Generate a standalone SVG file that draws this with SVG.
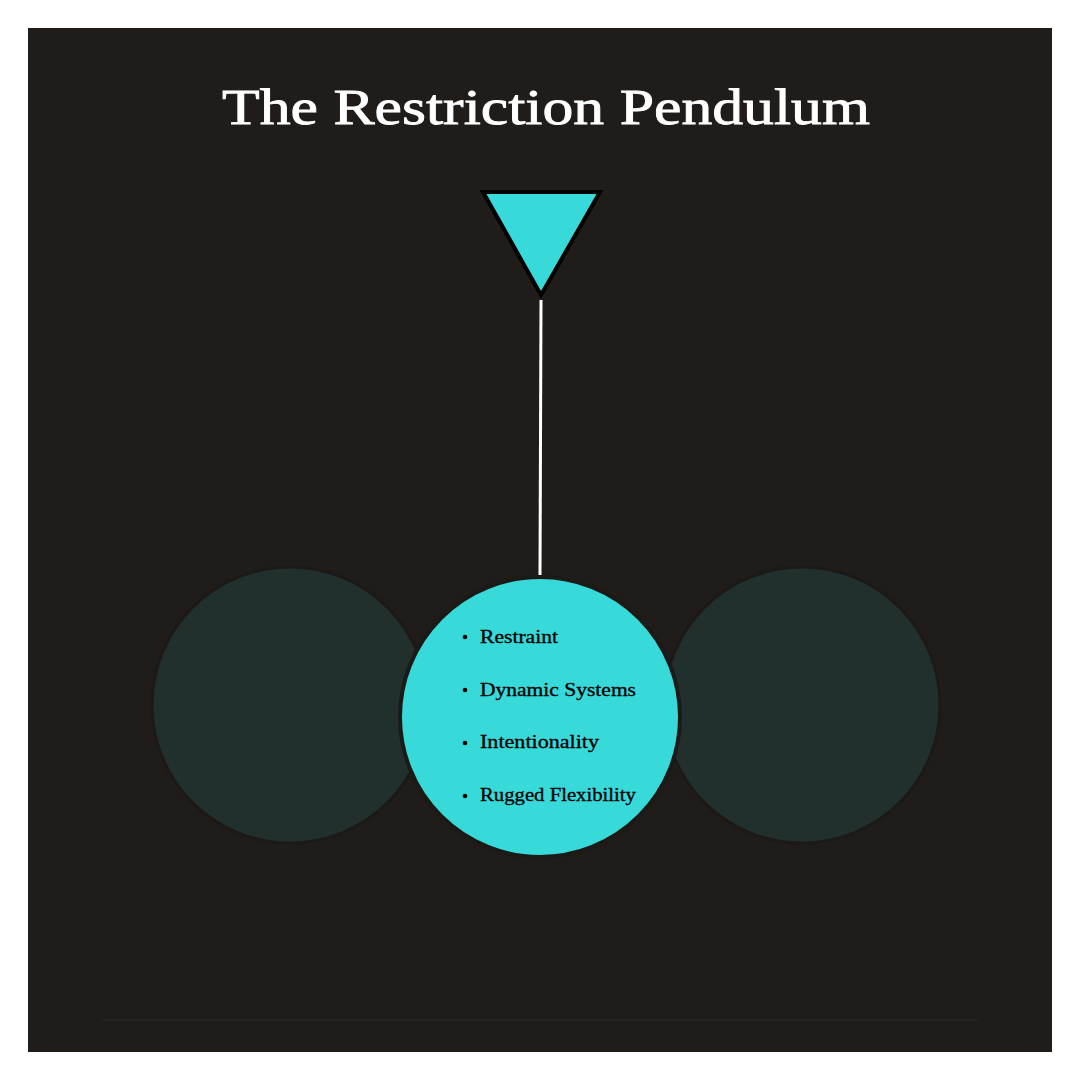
<svg xmlns="http://www.w3.org/2000/svg" width="1080" height="1080" viewBox="0 0 1080 1080">
<style>
.side{fill:#22302d;stroke:#1c1a17;stroke-width:3}
.t{font-family:"Liberation Serif","DejaVu Serif",serif;fill:#000;font-size:18px}
.t text{stroke:#000;stroke-width:0.3}
</style>
<rect x="0" y="0" width="1080" height="1080" fill="#ffffff"/>
<rect x="28" y="28" width="1024" height="1024" fill="#201c19"/>
<line x1="102" y1="1020" x2="978" y2="1020" stroke="#262220" stroke-width="2"/>
<text x="546" y="124" text-anchor="middle" font-family="Liberation Serif, serif" font-size="50" fill="#ffffff" stroke="#ffffff" stroke-width="0.8" textLength="648" lengthAdjust="spacingAndGlyphs">The Restriction Pendulum</text>
<g id="left"><circle class="side" cx="290" cy="705" r="138"/></g>
<g id="right"><circle class="side" cx="802" cy="705" r="138"/></g>
<g id="connectors"><line x1="541" y1="300" x2="540" y2="575" stroke="#ffffff" stroke-width="3"/></g>
<g id="pivot"><polygon points="483,192 600,192 541,295" fill="#38d9d9" stroke="#000" stroke-width="4"/></g>
<g id="bob">
<circle cx="540" cy="717" r="140" fill="#38d9d9" stroke="#1c1a17" stroke-width="4"/>
<g class="t">
<circle cx="465" cy="637" r="2.3"/><text x="480" y="643" textLength="78" lengthAdjust="spacingAndGlyphs">Restraint</text>
<circle cx="465" cy="690" r="2.3"/><text x="480" y="696" textLength="156" lengthAdjust="spacingAndGlyphs">Dynamic Systems</text>
<circle cx="465" cy="743" r="2.3"/><text x="480" y="748" textLength="119" lengthAdjust="spacingAndGlyphs">Intentionality</text>
<circle cx="465" cy="796" r="2.3"/><text x="480" y="801" textLength="156" lengthAdjust="spacingAndGlyphs">Rugged Flexibility</text>
</g>
</g>
</svg>
